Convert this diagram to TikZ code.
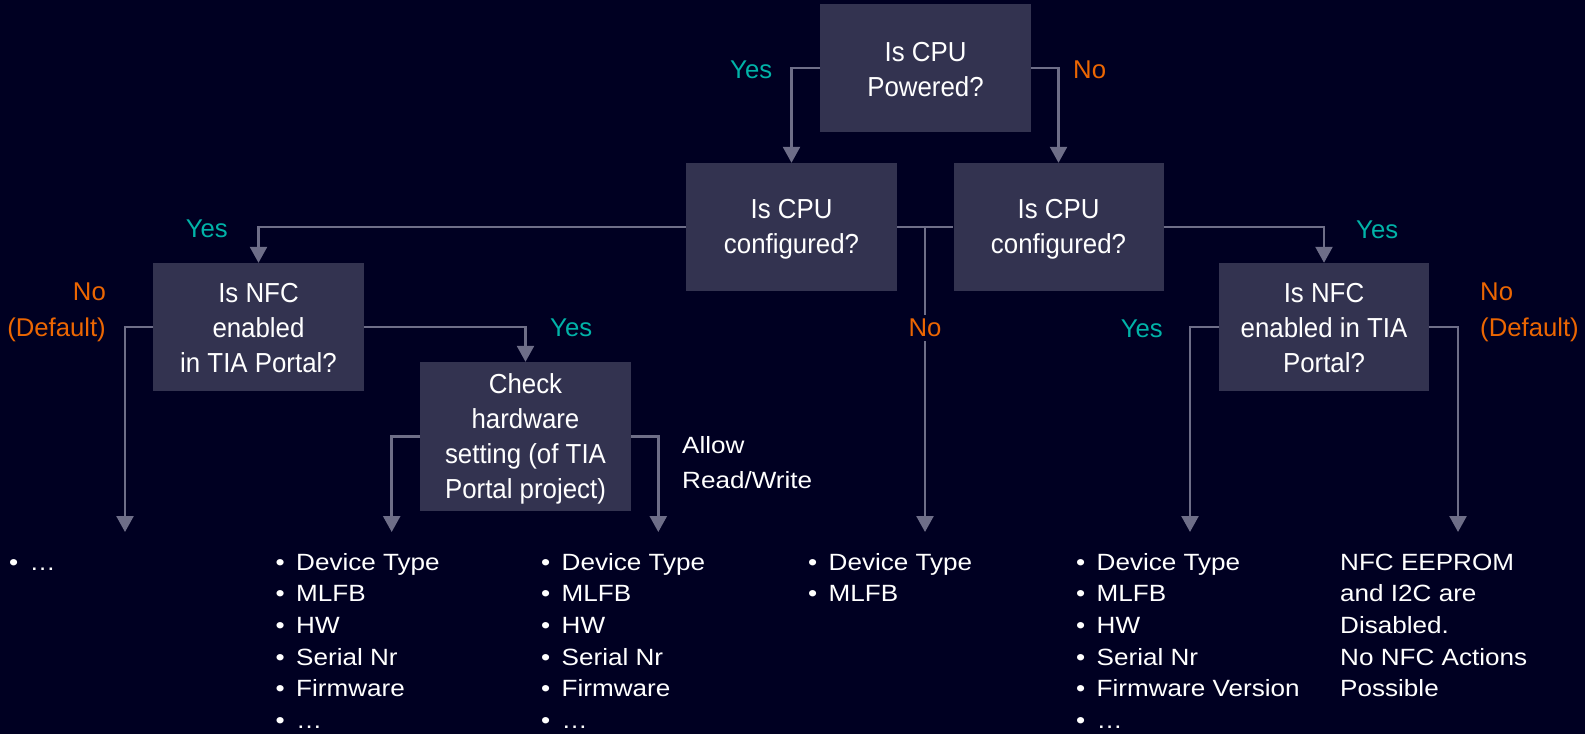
\documentclass[tikz,border=0pt]{standalone}
\usepackage{fontspec}
\setmainfont{Liberation Sans}
\newfontfamily\boxfont[FakeStretch=0.94]{Liberation Sans}
\newfontfamily\listfont[FakeStretch=1.11]{Liberation Sans}
\usetikzlibrary{arrows.meta}
\definecolor{bgc}{HTML}{000022}
\definecolor{boxc}{HTML}{333350}
\definecolor{linec}{HTML}{6E6E88}
\definecolor{yesc}{HTML}{00B3A8}
\definecolor{noc}{HTML}{EC6602}
\newcommand\bst{\rule[-3pt]{0pt}{27pt}}
\newcommand\bul{\makebox[20.5pt][l]{•}}
\tikzset{
  qbox/.style={fill=boxc, text=white, minimum width=211pt, minimum height=128pt,
    inner sep=0pt, align=center, font={\boxfont\fontsize{27.5pt}{35pt}\selectfont}},
  conn/.style={draw=linec, line width=2.5pt, -{Triangle[length=16pt,width=17pt]}},
  plain/.style={draw=linec, line width=2.5pt},
  lab/.style={font={\fontsize{25.7pt}{30pt}\selectfont}, inner sep=0pt, anchor=base west},
  yeslab/.style={lab, text=yesc},
  nolab/.style={lab, text=noc},
  lst/.style={inner sep=0pt, anchor=base west, text=white,
    font={\listfont\fontsize{23.5pt}{31.7pt}\selectfont}}
}
\begin{document}
\begin{tikzpicture}[x=1pt,y=-1pt]
\fill[bgc] (0,0) rectangle (1585,734);
\useasboundingbox (0,0) rectangle (1585,734);

% boxes
\node[qbox] (top) at (925.5,68) {\bst Is CPU\\\bst Powered?};
\node[qbox] (midL) at (791.5,227) {\bst Is CPU\\\bst configured?};
\node[qbox, minimum width=210pt] (midR) at (1058.5,227) {\bst Is CPU\\\bst configured?};
\node[qbox] (nfcL) at (258.5,327) {\bst Is NFC\\\bst enabled\\\bst in TIA Portal?};
\node[qbox, minimum height=149pt] (chk) at (525.5,436.5) {\bst Check\\\bst hardware\\\bst setting (of TIA\\\bst Portal project)};
\node[qbox, minimum width=210pt] (nfcR) at (1324,327) {\bst Is NFC\\\bst enabled in TIA\\\bst Portal?};

% end points
\coordinate (j) at (925,227);
\coordinate (eNo) at (925,532);
\coordinate (eL) at (125,532);
\coordinate (eC1) at (391.7,532);
\coordinate (eC2) at (658.3,532);
\coordinate (eR1) at (1190,532);
\coordinate (eR2) at (1458,532);

% connectors
\draw[conn] (top.west) -| (midL.north);
\draw[conn] (top.east) -| (midR.north);
\draw[conn] (midL.west) -| (nfcL.north);
\draw[conn] (midR.east) -| (nfcR.north);
\draw[plain] (midL.east) -- (midR.west);
\draw[conn] (j) -- (eNo);
\draw[conn] (nfcL.west) -| (eL);
\draw[conn] (nfcL.east) -| (chk.north);
\draw[conn] (chk.west) -| (eC1);
\draw[conn] (chk.east) -| (eC2);
\draw[conn] (nfcR.west) -| (eR1);
\draw[conn] (nfcR.east) -| (eR2);

% labels
\node[yeslab] (y1) at (730,78) {Yes};
\node[nolab] (n1) at (1073,78) {No};
\node[yeslab] (y2) at (185.7,237.7) {Yes};
\node[nolab, anchor=base east] (n2a) at (106,300.7) {No};
\node[nolab, anchor=base east] (n2b) at (106,336.7) {(Default)};
\node[yeslab] (y3) at (550,336.7) {Yes};
\node[nolab, anchor=base, fill=bgc, inner xsep=3pt, inner ysep=4pt] (n3) at (925,336.7) {No};
\node[yeslab] (y4) at (1356,238.6) {Yes};
\node[yeslab] (y5) at (1120.6,337) {Yes};
\node[nolab] (n4a) at (1480,300.7) {No};
\node[nolab] (n4b) at (1480,336.7) {(Default)};
\node[lst, font={\listfont\fontsize{23.5pt}{35pt}\selectfont}] (allow) at (682,453)
  {\vtop{\hbox{Allow}\hbox{Read/Write}}};

% lists
\node[lst] (l1) at (9,570) {\vtop{\hbox{\bul …}}};
\node[lst] (l2) at (275.5,570) {\vtop{\hbox{\bul Device Type}\hbox{\bul MLFB}\hbox{\bul HW}\hbox{\bul Serial Nr}\hbox{\bul Firmware}\hbox{\bul …}}};
\node[lst] (l3) at (541,570) {\vtop{\hbox{\bul Device Type}\hbox{\bul MLFB}\hbox{\bul HW}\hbox{\bul Serial Nr}\hbox{\bul Firmware}\hbox{\bul …}}};
\node[lst] (l4) at (808,570) {\vtop{\hbox{\bul Device Type}\hbox{\bul MLFB}}};
\node[lst] (l5) at (1076,570) {\vtop{\hbox{\bul Device Type}\hbox{\bul MLFB}\hbox{\bul HW}\hbox{\bul Serial Nr}\hbox{\bul Firmware Version}\hbox{\bul …}}};
\node[lst] (l6) at (1340,570) {\vtop{\hbox{NFC EEPROM}\hbox{and I2C are}\hbox{Disabled.}\hbox{No NFC Actions}\hbox{Possible}}};
\end{tikzpicture}
\end{document}
